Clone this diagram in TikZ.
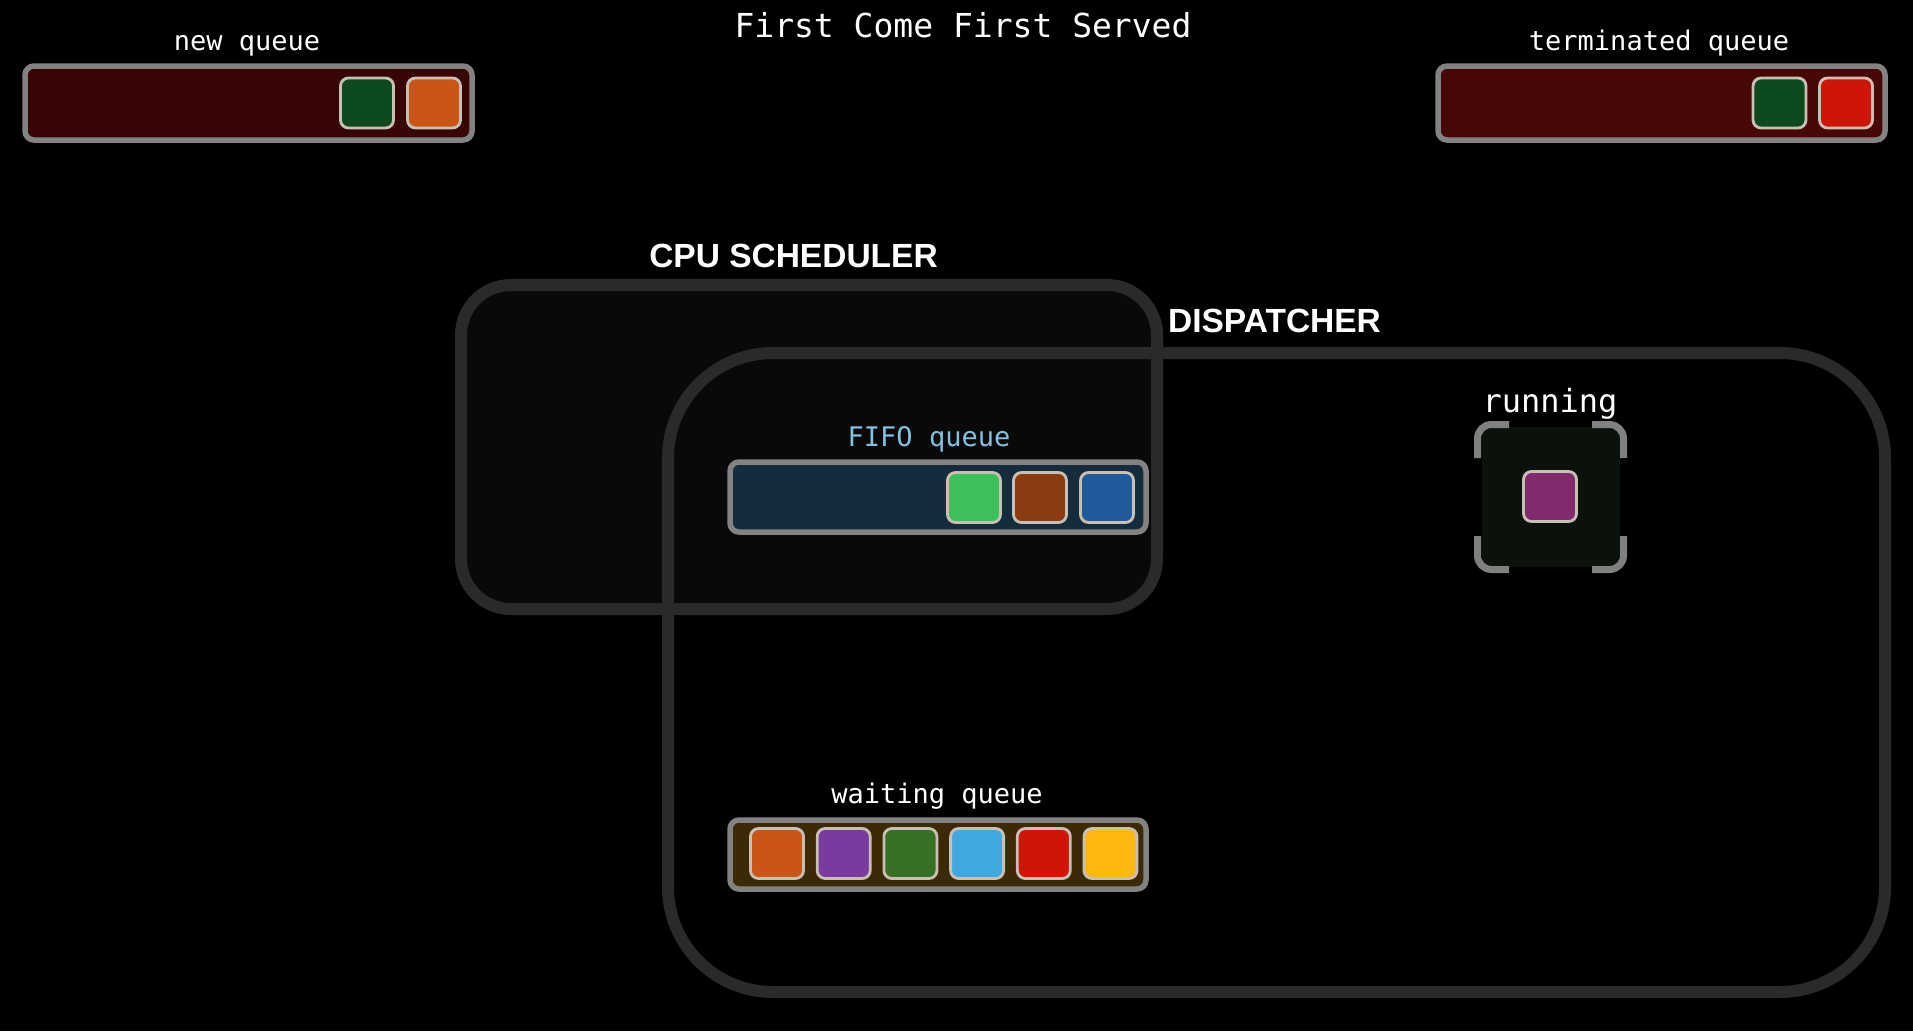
\documentclass[tikz,border=0pt]{standalone}
\usepackage{fontspec}
\setmainfont{Liberation Sans}
\newfontfamily\monof{DejaVu Sans Mono}
\definecolor{qgray}{HTML}{828282}
\definecolor{pborder}{HTML}{C9C0B5}
\definecolor{regline}{HTML}{2A2A2A}
\definecolor{cpufill}{HTML}{090909}
\definecolor{newfill}{HTML}{370604}
\definecolor{termfill}{HTML}{460706}
\definecolor{fifofill}{HTML}{142C3B}
\definecolor{waitfill}{HTML}{3C2A06}
\definecolor{runfill}{HTML}{0B120B}
\definecolor{fifotext}{HTML}{84C0E0}
\definecolor{pdgreen}{HTML}{0E4A1F}
\definecolor{porange}{HTML}{C95617}
\definecolor{pred}{HTML}{CF1505}
\definecolor{plgreen}{HTML}{3DBF5C}
\definecolor{pbrown}{HTML}{8B3B10}
\definecolor{pblue}{HTML}{1F5B9A}
\definecolor{ppurple}{HTML}{7A3BA0}
\definecolor{pgreen}{HTML}{367126}
\definecolor{plblue}{HTML}{3FA9E0}
\definecolor{pyellow}{HTML}{FCB711}
\definecolor{pmagenta}{HTML}{832A6F}
\definecolor{brkgray}{HTML}{808080}
\begin{document}
\begin{tikzpicture}[x=1pt,y=-1pt,
  qbox/.style={draw=qgray, line width=5.5pt, rounded corners=9pt, inner sep=0pt, minimum width=417pt},
  proc/.style={draw=pborder, line width=2.8pt, rounded corners=8pt, minimum width=53pt, minimum height=50pt, inner sep=0pt},
  lbl/.style={text=white, font=\monof\fontsize{27}{30}\selectfont, anchor=base, inner sep=0pt},
  hdr/.style={text=white, font=\bfseries\fontsize{33.5}{38}\selectfont, anchor=base, inner sep=0pt},
  region/.style={draw=regline, line width=12pt, inner sep=0pt},
  brk/.style={draw=brkgray, line width=7pt, rounded corners=14pt}]
\useasboundingbox (0,0) rectangle (1913,1031);
\fill[black] (0,0) rectangle (1913,1031);

% title
\node[lbl, font=\monof\fontsize{33}{38}\selectfont] (title) at (963,37) {First Come First Served};

% new queue
\node[lbl] (newlbl) at (247,50) {new queue};
\node[qbox, fill=newfill, minimum width=447pt, minimum height=74pt] (newq) at (248.5,103) {};
\node[proc, fill=pdgreen] (n1) at (367,103) {};
\node[proc, fill=porange] (n2) at (434,103) {};

% terminated queue
\node[lbl] (termlbl) at (1659,50) {terminated queue};
\node[qbox, fill=termfill, minimum width=447pt, minimum height=74pt] (termq) at (1661.5,103) {};
\node[proc, fill=pdgreen] (t1) at (1779.5,103) {};
\node[proc, fill=pred] (t2) at (1846,103) {};

% regions
\node[region, fill=cpufill, rounded corners=50pt, minimum width=696pt, minimum height=324pt] (cpu) at (809,447) {};
\node[region, rounded corners=105pt, minimum width=1217pt, minimum height=639pt] (disp) at (1276.5,672.5) {};
\node[hdr] (cpulbl) at (793.5,267) {CPU SCHEDULER};
\node[hdr] (displbl) at (1274.5,332) {DISPATCHER};

% FIFO queue
\node[lbl, text=fifotext] (fifolbl) at (929,446) {FIFO queue};
\node[qbox, fill=fifofill, minimum width=416pt, minimum height=70pt] (fifoq) at (938,497) {};
\node[proc, fill=plgreen] (f1) at (974,497.5) {};
\node[proc, fill=pbrown] (f2) at (1040,497.5) {};
\node[proc, fill=pblue] (f3) at (1107,497.5) {};

% waiting queue
\node[lbl] (waitlbl) at (937,803) {waiting queue};
\node[qbox, fill=waitfill, minimum width=416pt, minimum height=69pt] (waitq) at (938,854.5) {};
\node[proc, fill=porange] (w1) at (777,853.5) {};
\node[proc, fill=ppurple] (w2) at (843.7,853.5) {};
\node[proc, fill=pgreen] (w3) at (910.4,853.5) {};
\node[proc, fill=plblue] (w4) at (977.1,853.5) {};
\node[proc, fill=pred] (w5) at (1043.8,853.5) {};
\node[proc, fill=pyellow] (w6) at (1110.5,853.5) {};

% running
\node[lbl, font=\monof\fontsize{32}{36}\selectfont] (runlbl) at (1550,412) {running};
\node[fill=runfill, minimum width=138pt, minimum height=140pt, inner sep=0pt] (runbox) at (1551,497) {};
\draw[brk] (1477.5,458) -- (1477.5,424.5) -- (1509,424.5);
\draw[brk] (1592,424.5) -- (1623.5,424.5) -- (1623.5,458);
\draw[brk] (1477.5,536) -- (1477.5,569.5) -- (1509,569.5);
\draw[brk] (1592,569.5) -- (1623.5,569.5) -- (1623.5,536);
\node[proc, fill=pmagenta] (r1) at (1550,496.5) {};
\end{tikzpicture}
\end{document}
